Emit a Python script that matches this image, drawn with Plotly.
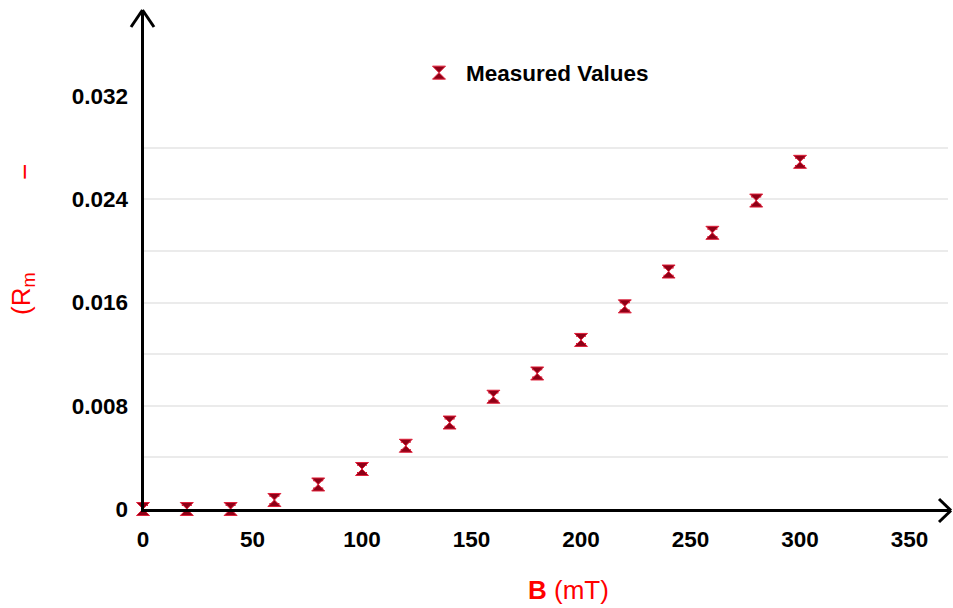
import plotly.graph_objects as go

B_mT = [0, 20, 40, 60, 80, 100, 120, 140, 160, 180, 200, 220, 240, 260, 280, 300]
R_vals = [0.0, 0.0, 0.0, 0.0007, 0.0019, 0.0031, 0.0049, 0.0067, 0.0087, 0.0105,
          0.0131, 0.0157, 0.0184, 0.0214, 0.0239, 0.0269]
R_err = [0.0003] * len(B_mT)
x_ticks = [0, 50, 100, 150, 200, 250, 300, 350]
y_ticks = [0, 0.008, 0.016, 0.024, 0.032]
y_tick_text = ["0", "0.008", "0.016", "0.024", "0.032"]
grid_vals = [0.004, 0.008, 0.012, 0.016, 0.020, 0.024, 0.028]

W, H = 953, 608
ML, MR, MT, MB = 143, 5, 10, 99
PW, PH = W - ML - MR, H - MT - MB

def px(x):
    return (x - ML) / PW

def py(y):
    return (H - MB - y) / PH

fig = go.Figure()
fig.add_trace(go.Scatter(
    x=B_mT, y=R_vals, mode="markers", name="Measured Values",
    marker=dict(symbol="hourglass", size=13, color="#8e0016",
                line=dict(color="#e0203a", width=1)),
    error_y=dict(type="data", array=R_err, color="#d01030", thickness=1.5, width=5),
    cliponaxis=False,
))

font_family = "Liberation Sans, Arial, sans-serif"
shapes = []
# up arrow chevron
for (x0, y0) in [(131, 27), (154, 27)]:
    shapes.append(dict(type="line", xref="paper", yref="paper",
                       x0=px(x0), y0=py(y0), x1=px(142.5), y1=py(10),
                       line=dict(color="black", width=3)))
shapes.append(dict(type="line", xref="paper", yref="paper",
                   x0=px(142.5), y0=py(511), x1=px(142.5), y1=py(11),
                   line=dict(color="black", width=3)))
# right arrow
shapes.append(dict(type="line", xref="paper", yref="paper",
                   x0=px(141), y0=py(510.5), x1=px(950), y1=py(510.5),
                   line=dict(color="black", width=3)))
for (x0, y0) in [(939, 499), (939, 522)]:
    shapes.append(dict(type="line", xref="paper", yref="paper",
                       x0=px(x0), y0=py(y0), x1=px(951), y1=py(510.5),
                       line=dict(color="black", width=3)))

fig.update_layout(
    width=W, height=H,
    margin=dict(l=ML, r=MR, t=MT, b=MB),
    paper_bgcolor="white", plot_bgcolor="white",
    font=dict(family=font_family, color="black"),
    showlegend=True,
    legend=dict(x=px(412), y=py(73), xanchor="left", yanchor="middle",
                itemwidth=44,
                font=dict(family=font_family, size=22.5, color="black", weight="bold"),
                bgcolor="rgba(0,0,0,0)"),
    xaxis=dict(range=[0, PW / 2.19], tickvals=x_ticks, showgrid=False, zeroline=False,
               showline=False, ticks="", ticklabelstandoff=14,
               tickfont=dict(family=font_family, size=22.5, color="black", weight="bold")),
    yaxis=dict(range=[0, PH / (103.25 / 0.008)], tickvals=y_ticks, ticktext=y_tick_text,
               showgrid=False, zeroline=False,
               showline=False, ticks="", ticklabelstandoff=14,
               tickfont=dict(family=font_family, size=22.5, color="black", weight="bold"),
               minor=dict(tickvals=grid_vals, showgrid=True, gridcolor="#ebebeb", gridwidth=2)),
    shapes=shapes,
    annotations=[
        dict(text="<b>B</b> (mT)", xref="paper", yref="paper", x=px(568), y=py(590),
             showarrow=False, font=dict(family=font_family, size=26, color="#ff0000"),
             xanchor="center", yanchor="middle"),
        dict(text="(R<sub>m</sub>", xref="paper", yref="paper", x=px(22), y=py(294),
             showarrow=False, textangle=-90,
             font=dict(family=font_family, size=26, color="#ff0000"),
             xanchor="center", yanchor="middle"),
        dict(text="−", xref="paper", yref="paper", x=px(24), y=py(172),
             showarrow=False, textangle=-90,
             font=dict(family=font_family, size=28, color="#ff0000"),
             xanchor="center", yanchor="middle"),
    ],
)

fig.write_html("out.html")
